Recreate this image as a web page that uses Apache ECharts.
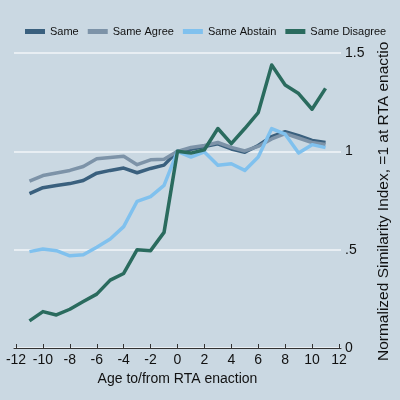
<!DOCTYPE html>
<html>
<head>
<meta charset="utf-8">
<script src="https://cdn.jsdelivr.net/npm/echarts@6/dist/echarts.min.js"></script>
<style>
html,body{margin:0;padding:0;background:#cad8e2;}
#chart{width:400px;height:400px;}
</style>
</head>
<body>
<div id="chart"></div>
<script>
var ages = [-11,-10,-9,-8,-7,-6,-5,-4,-3,-2,-1,0,1,2,3,4,5,6,7,8,9,10,11];
var same =      [0.785,0.815,0.826,0.836,0.852,0.889,0.903,0.915,0.891,0.913,0.930,1.0,1.010,1.025,1.038,1.012,0.995,1.030,1.075,1.100,1.080,1.055,1.045];
var sameAgree = [0.848,0.877,0.890,0.903,0.923,0.962,0.969,0.975,0.932,0.957,0.960,1.0,1.020,1.030,1.045,1.020,1.002,1.025,1.063,1.090,1.068,1.045,1.035];
var sameAbstain=[0.490,0.503,0.495,0.469,0.474,0.512,0.554,0.617,0.746,0.770,0.827,1.0,0.971,0.997,0.929,0.937,0.903,0.971,1.116,1.087,0.991,1.034,1.019];
var sameDisagree=[0.138,0.185,0.168,0.197,0.236,0.274,0.345,0.379,0.500,0.495,0.588,1.0,0.991,1.008,1.116,1.039,1.116,1.197,1.439,1.337,1.294,1.214,1.320];
var seriesNames = ['Same','Same Agree','Same Abstain','Same Disagree'];
var xTicks = [-12,-10,-8,-6,-4,-2,0,2,4,6,8,10,12];
var yTicks = [0,0.5,1,1.5];
var yTickLabels = ['0','.5','1','1.5'];
var colors = ['#3a607e','#7d93a8','#80c1ee','#2a6b5e'];

function pairs(v){ return ages.map(function(a,i){ return [a, v[i]]; }); }
var allData = [same, sameAgree, sameAbstain, sameDisagree];

var chart = echarts.init(document.getElementById('chart'));
chart.setOption({
  backgroundColor: '#cad8e2',
  animation: false,
  color: colors,
  textStyle: { fontFamily: 'Liberation Sans, Arial, sans-serif', color: '#111' },
  legend: {
    data: seriesNames,
    top: 22,
    left: 22,
    right: 0,
    padding: [4, 3, 4, 3],
    itemGap: 9,
    itemWidth: 20,
    itemHeight: 5,
    icon: 'rect',
    z: 10,
    backgroundColor: '#cad8e2',
    textStyle: { fontSize: 11, color: '#111', overflow: 'none' }
  },
  grid: { left: 14, right: 59, top: 53, bottom: 52 },
  xAxis: {
    type: 'value',
    min: -12.15, max: 12.15,
    name: 'Age to/from RTA enaction',
    nameLocation: 'middle',
    nameGap: 19,
    nameTextStyle: { fontSize: 14, color: '#111', verticalAlign: 'top' },
    axisLine: { show: true, lineStyle: { color: '#333', width: 1 } },
    axisTick: { show: true, inside: true, length: 4, lineStyle: { color: '#333' }, customValues: xTicks },
    axisLabel: { fontSize: 14, color: '#111', margin: 5, customValues: xTicks, showMinLabel: true, showMaxLabel: true },
    splitLine: { show: false }
  },
  yAxis: {
    type: 'value',
    position: 'right',
    min: 0, max: 1.5, interval: 0.5,
    name: 'Normalized Similarity Index, =1 at RTA enaction',
    nameLocation: 'middle',
    nameGap: 28,
    nameRotate: 90,
    nameTextStyle: { fontSize: 15.5, color: '#111', padding: [0, 0, 0, 7] },
    axisLine: { show: false },
    axisTick: { show: false },
    axisLabel: {
      fontSize: 14, color: '#111', margin: 4,
      formatter: function(v){ var i = yTicks.indexOf(v); return i >= 0 ? yTickLabels[i] : ''; }
    },
    splitLine: { show: true, lineStyle: { color: '#f2f6f9', width: 1.5 } }
  },
  series: seriesNames.map(function(n, i){
    return {
      name: n, type: 'line', data: pairs(allData[i]),
      showSymbol: false, symbol: 'none',
      lineStyle: { width: 3.5, color: colors[i], join: 'round' },
      itemStyle: { color: colors[i] }
    };
  })
});
</script>
</body>
</html>
